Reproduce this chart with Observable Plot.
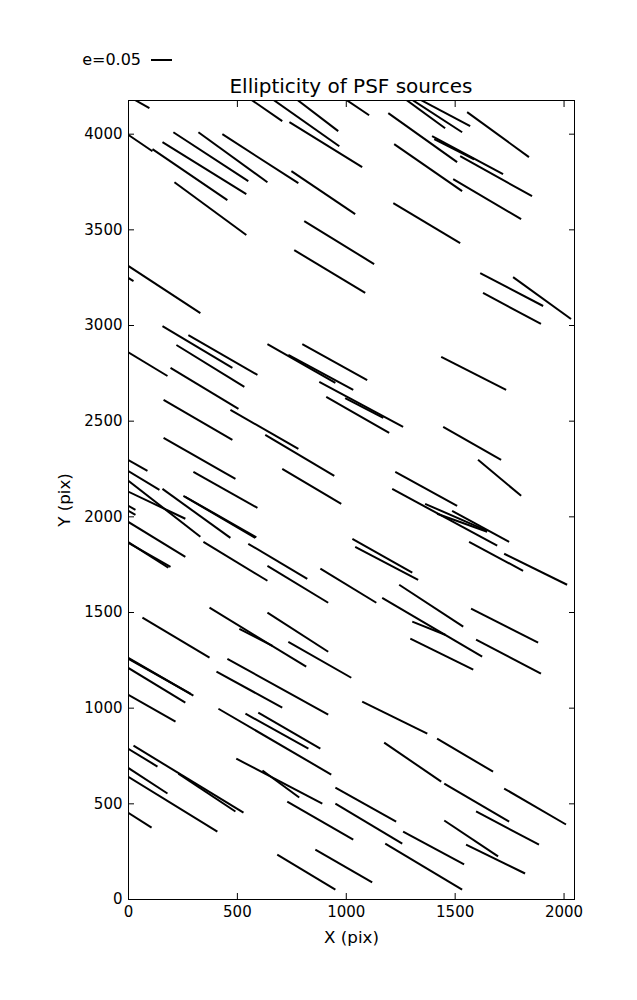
<!DOCTYPE html>
<html><head><meta charset="utf-8">
<script src="https://cdn.jsdelivr.net/npm/d3@7"></script>
<script src="https://cdn.jsdelivr.net/npm/@observablehq/plot@0.6"></script>
<style>
html,body{margin:0;padding:0;background:#fff;overflow:hidden}
#wrap{position:relative;width:637px;height:1000px}
#overlay{position:absolute;left:0;top:0;pointer-events:none}
</style></head><body><div id="wrap"></div>
<script>
// Whisker endpoints (pixel-frame of the CCD, data units)
const x1 = [23,-18,110,156,206,321,431,211,560,661,
771,739,748,995,807,761,1193,1220,1216,1271,
1298,1335,1555,1394,1404,1523,1491,1615,1766,1628,
-14,-37,156,275,220,-18,193,638,734,798,
876,995,908,468,628,706,1225,1211,1436,1445,
1605,161,161,298,-18,-18,-18,-9,156,252,
260,-18,-18,-18,-18,-9,344,550,638,372,
509,638,64,-18,-9,-18,454,404,-18,1028,
1041,881,734,1243,1165,1303,1294,1362,1417,1486,
1564,1725,1573,1596,413,537,596,23,-18,-18,
-18,229,-18,495,615,1073,1174,950,729,950,
1261,1179,683,858,1417,1450,1725,1596,1450,1550];
const y1 = [4183,4010,3922,3958,4010,4010,4000,3749,4183,4183,
4183,4063,3807,4183,3546,3394,4110,3948,3640,4183,
4183,4183,4115,3990,3974,3885,3765,3274,3253,3170,
3321,3274,2997,2950,2898,2872,2778,2903,2846,2903,
2705,2621,2627,2559,2428,2251,2235,2146,2836,2470,
2298,2611,2413,2235,2308,2251,2204,2136,2146,2110,
2105,2068,2042,1985,1880,1870,1869,1859,1744,1525,
1415,1499,1473,1274,1264,1222,1258,1191,1081,1885,
1843,1729,1347,1645,1577,1452,1363,2068,2016,2031,
1869,1807,1520,1358,997,971,977,804,799,700,
653,658,465,736,674,1034,820,585,512,501,
355,292,235,261,841,606,580,460,413,287];
const x2 = [96,110,454,541,550,638,780,541,706,968,
963,1073,1041,1105,1128,1087,1509,1532,1523,1454,
1532,1569,1839,1720,1587,1853,1803,1904,2032,1894,
330,23,477,592,532,179,505,950,1032,1096,
1261,1170,1197,780,945,977,1509,1693,1734,1711,
1803,477,491,592,87,142,330,261,468,582,
587,32,32,261,183,193,638,821,917,816,
661,917,372,298,284,261,917,706,216,1303,
1330,1138,1023,1537,1624,1454,1583,1647,1647,1748,
1812,2014,1881,1894,931,826,881,528,133,179,
408,491,106,890,784,1372,1436,1229,1032,1257,
1541,1532,950,1119,1674,1748,2009,1885,1697,1821];
const y2 = [4136,3911,3655,3687,3755,3749,3744,3473,4068,3937,
4016,3828,3582,4099,3321,3170,3854,3702,3431,4031,
4010,4042,3880,3791,3869,3676,3556,3102,3034,3008,
3065,3232,2778,2742,2679,2736,2564,2700,2663,2715,
2470,2517,2439,2355,2214,2068,2057,1849,2663,2298,
2110,2402,2198,2047,2240,2141,1896,1990,1890,1890,
1893,2037,2010,1791,1734,1739,1666,1676,1551,1217,
1326,1295,1264,1065,1076,1029,966,1003,930,1708,
1671,1551,1159,1426,1269,1384,1201,1927,1922,1869,
1718,1645,1342,1180,653,789,789,454,695,554,
355,460,376,501,533,867,616,407,313,292,
183,52,52,89,668,407,392,287,225,136];

const xTicks = [0, 500, 1000, 1500, 2000];
const yTicks = [0, 500, 1000, 1500, 2000, 2500, 3000, 3500, 4000];
const xDomain = [0, 2048];
const yDomain = [0, 4176];
const chartTitle = "Ellipticity of PSF sources";
const legendLabel = "e=0.05";
const xLabel = "X (pix)";
const yLabel = "Y (pix)";

const segs = x1.map((_, i) => ({x1: x1[i], y1: y1[i], x2: x2[i], y2: y2[i]}));
const font = "'DejaVu Sans', sans-serif";
const fmt = d => String(d);

const plot = Plot.plot({
  width: 637, height: 1000,
  marginTop: 100, marginLeft: 128, marginRight: 63, marginBottom: 101,
  style: {fontFamily: font, fontSize: "15px", color: "#000", background: "#fff", overflow: "visible"},
  x: {domain: xDomain},
  y: {domain: yDomain},
  marks: [
    Plot.link(segs, {x1: "x1", y1: "y1", x2: "x2", y2: "y2", stroke: "#000", strokeWidth: 2, clip: true}),
    Plot.frame({stroke: "#000", strokeWidth: 1}),
    Plot.axisX(xTicks, {anchor: "bottom", tickSize: 0, tickPadding: 7, fontSize: 15, tickFormat: fmt, label: null}),
    Plot.axisX([], {anchor: "bottom", tickSize: 0, fontSize: 16.7, label: xLabel, labelAnchor: "center", labelOffset: 43, labelArrow: "none"}),
    Plot.axisX(xTicks, {anchor: "bottom", tickSize: -6, fill: "none", label: null}),
    Plot.axisX(xTicks, {anchor: "top", tickSize: -6, fill: "none", label: null}),
    Plot.axisY(yTicks, {anchor: "left", tickSize: 0, tickPadding: 6, fontSize: 15, tickFormat: fmt, label: null}),
    Plot.axisY([], {anchor: "left", tickSize: 0, fontSize: 16.7, label: yLabel, labelAnchor: "center", labelOffset: 70, labelArrow: "none"}),
    Plot.axisY(yTicks, {anchor: "left", tickSize: -6, fill: "none", label: null}),
    Plot.axisY(yTicks, {anchor: "right", tickSize: -6, fill: "none", label: null})
  ]
});
const wrap = document.getElementById("wrap");
wrap.appendChild(plot);

// Title and legend overlay
const ov = d3.create("svg").attr("id", "overlay").attr("width", 637).attr("height", 100)
  .style("font-family", font);
ov.append("text").attr("x", 351).attr("y", 93).attr("text-anchor", "middle")
  .attr("font-size", 20).attr("fill", "#000").text(chartTitle);
ov.append("text").attr("x", 141).attr("y", 65).attr("text-anchor", "end")
  .attr("font-size", 16).attr("fill", "#000").text(legendLabel);
ov.append("line").attr("x1", 151).attr("x2", 172).attr("y1", 60).attr("y2", 60)
  .attr("stroke", "#000").attr("stroke-width", 2);
wrap.appendChild(ov.node());
</script></body></html>
